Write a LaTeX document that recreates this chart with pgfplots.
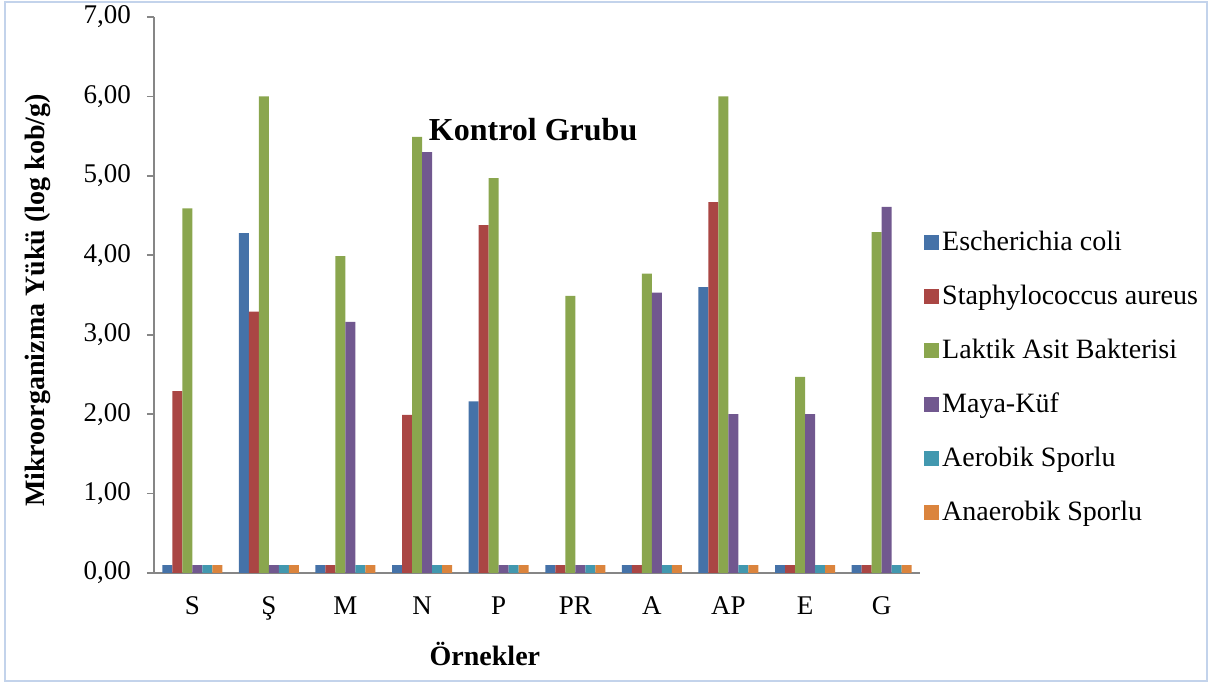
\documentclass[border=0pt]{standalone}
\usepackage{fontspec}
\setmainfont{Liberation Serif}
\usepackage{pgfplots}
\usepackage{pgfplotstable}
\pgfplotsset{compat=1.18}

\definecolor{cEc}{HTML}{4572A8}
\definecolor{cSa}{HTML}{AA4644}
\definecolor{cLab}{HTML}{8AA64E}
\definecolor{cMk}{HTML}{71588F}
\definecolor{cAe}{HTML}{4298AF}
\definecolor{cAn}{HTML}{DB843D}
\definecolor{axgray}{HTML}{868686}
\definecolor{frame}{HTML}{C3D3EB}

% log kob/g per sample
\pgfplotstableread{
x   ec    sa    lab   mk    ae   an
0   0.10  2.29  4.59  0.10  0.10 0.10
1   4.28  3.29  6.00  0.10  0.10 0.10
2   0.10  0.10  3.99  3.16  0.10 0.10
3   0.10  1.99  5.49  5.30  0.10 0.10
4   2.16  4.38  4.97  0.10  0.10 0.10
5   0.10  0.10  3.49  0.10  0.10 0.10
6   0.10  0.10  3.77  3.53  0.10 0.10
7   3.60  4.67  6.00  2.00  0.10 0.10
8   0.10  0.10  2.47  2.00  0.10 0.10
9   0.10  0.10  4.29  4.61  0.10 0.10
}\kontrol

\begin{document}
\begin{tikzpicture}[x=1pt,y=1pt]
\useasboundingbox (0,0) rectangle (611,342);
\draw[frame, line width=1pt] (2.5,1.5) rectangle (603.5,341);
\begin{axis}[
  at={(77pt,55.5pt)}, anchor=south west,
  scale only axis, width=383pt, height=278pt,
  ybar=0pt, bar width=5pt,
  xmin=-0.5, xmax=9.5, ymin=0, ymax=7,
  xtick={0,...,9},
  xticklabels={S,Ş,M,N,P,PR,A,AP,E,G},
  ytick={0,...,7},
  axis lines*=left,
  axis line style={axgray, line width=0.8pt},
  xtick style={draw=none},
  ytick style={axgray, line width=0.8pt},
  major tick length=3.5pt, tick align=outside,
  /pgf/number format/assume math mode=true,
  yticklabel style={/pgf/number format/fixed, /pgf/number format/fixed zerofill,
    /pgf/number format/precision=2, /pgf/number format/use comma},
  yticklabel shift=4.5pt,
  ticklabel style={font=\fontsize{13.5}{16}\selectfont},
  xticklabel style={yshift=-5pt},
  xlabel={Örnekler},
  xlabel style={font=\bfseries\fontsize{14}{17}\selectfont, at={(axis description cs:0.432,-0.1655)}, anchor=base},
  ylabel={Mikroorganizma Yükü (log kob/g)},
  ylabel style={font=\bfseries\fontsize{14}{17}\selectfont, at={(axis description cs:-0.151,0.49)}, anchor=center},
  legend style={at={(rel axis cs:1.005,0.617)}, anchor=north west, draw=none, fill=none,
    inner sep=0pt, row sep=15pt, font=\fontsize{14}{16.8}\selectfont,
    nodes={inner xsep=1.5pt, inner ysep=0pt, text height=10pt, text depth=2pt}},
  legend cell align=left,
  legend image code/.code={\fill[#1] (0pt,-3.75pt) rectangle (7.5pt,3.75pt);},
  every axis plot/.append style={draw=none},
]
\addplot[fill=cEc]  table[x=x,y=ec]  {\kontrol};
\addlegendentry{Escherichia coli}
\addplot[fill=cSa]  table[x=x,y=sa]  {\kontrol};
\addlegendentry{Staphylococcus aureus}
\addplot[fill=cLab] table[x=x,y=lab] {\kontrol};
\addlegendentry{Laktik Asit Bakterisi}
\addplot[fill=cMk]  table[x=x,y=mk]  {\kontrol};
\addlegendentry{Maya-Küf}
\addplot[fill=cAe]  table[x=x,y=ae]  {\kontrol};
\addlegendentry{Aerobik Sporlu}
\addplot[fill=cAn]  table[x=x,y=an]  {\kontrol};
\addlegendentry{Anaerobik Sporlu}
\node[font=\bfseries\fontsize{16}{19}\selectfont, anchor=base] at (rel axis cs:0.495,0.777) {Kontrol Grubu};
\end{axis}
\end{tikzpicture}
\end{document}
